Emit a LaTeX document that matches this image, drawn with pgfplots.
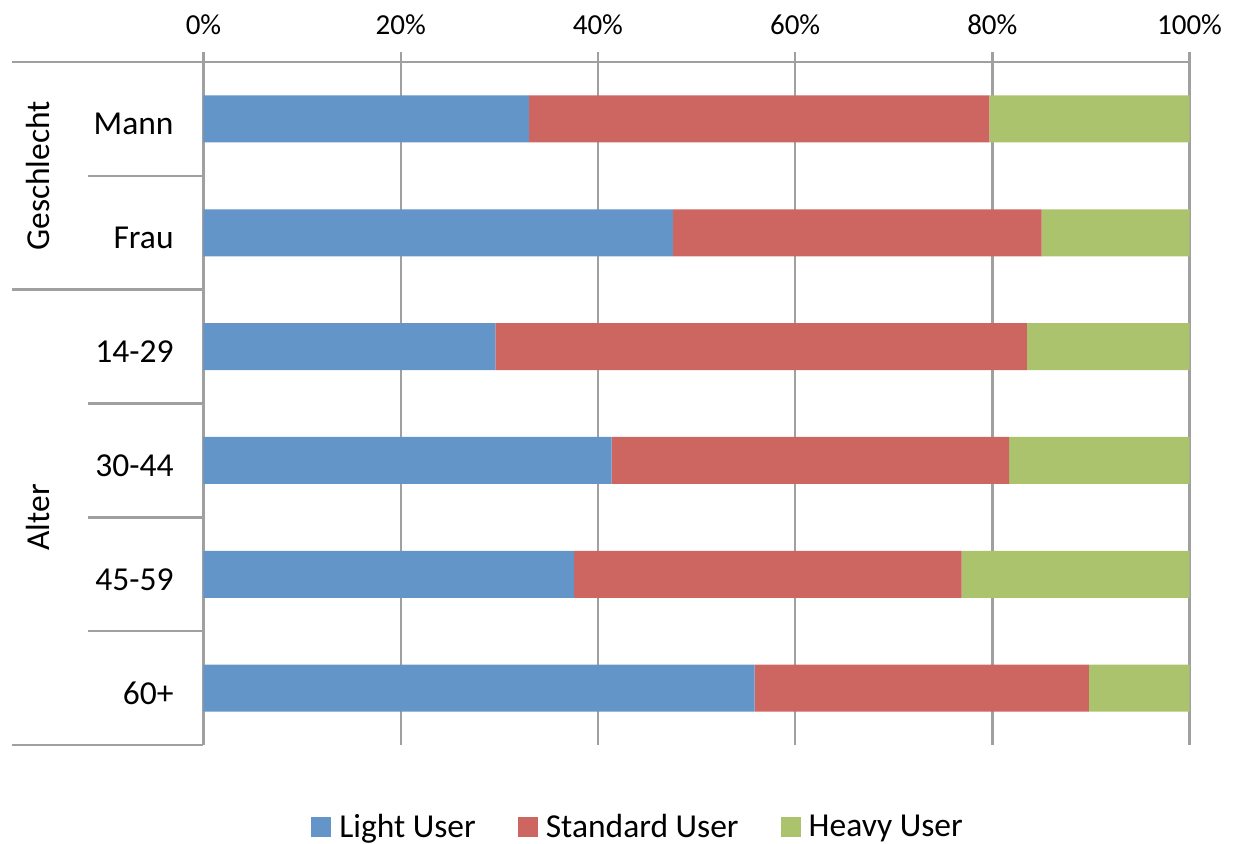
\documentclass[border=0pt]{standalone}
\usepackage{pgfplots}
\pgfplotsset{compat=1.18}
\usepackage{fontspec}
\setmainfont{Carlito}
\definecolor{lightuser}{RGB}{99,149,201}
\definecolor{standarduser}{RGB}{205,102,97}
\definecolor{heavyuser}{RGB}{171,195,109}
\definecolor{gridgray}{RGB}{160,160,160}
\begin{document}
\begin{tikzpicture}
\begin{axis}[
    xbar stacked,
    scale only axis,
    width=493pt,
    height=341.5pt,
    bar width=23.5pt,
    xmin=0, xmax=100,
    ymin=-0.5, ymax=5.5,
    y dir=reverse,
    axis x line*=top,
    axis y line*=left,
    axis line style={gridgray, line width=1.2pt},
    xtick={0,20,...,100},
    xticklabel={\pgfmathprintnumber{\tick}\%},
    xmajorgrids,
    major grid style={gridgray, line width=1.2pt},
    x tick style={gridgray, line width=1.2pt},
    major tick length=5pt,
    tick align=outside,
    xticklabel style={font=\fontsize{14.5}{16}\selectfont, anchor=base, yshift=9pt},
    ytick={0,...,5},
    yticklabels={Mann,Frau,14-29,30-44,45-59,60+},
    y tick style={draw=none},
    yticklabel style={font=\fontsize{16.75}{20}\selectfont, anchor=east, inner sep=0pt, xshift=-9.75pt, yshift=-2.5pt},
    /pgf/number format/assume math mode=true,
    clip=false,
    legend columns=3,
    legend image code/.code={\fill[#1] (0pt,-5pt) rectangle (10pt,5pt);},
    legend style={draw=none, fill=none, at={(0.4417,-0.1205)}, anchor=center,
        font=\fontsize{16.75}{20}\selectfont,
        /tikz/every odd column/.append style={column sep=2pt},
        /tikz/every even column/.append style={column sep=19pt}},
]
\addplot[fill=lightuser, draw=none] coordinates {(33.0,0) (47.6,1) (29.6,2) (41.4,3) (37.6,4) (55.9,5)};
\addlegendentry{Light User}
\addplot[fill=standarduser, draw=none] coordinates {(46.7,0) (37.4,1) (53.9,2) (40.3,3) (39.3,4) (33.9,5)};
\addlegendentry{Standard User}
\addplot[fill=heavyuser, draw=none] coordinates {(20.3,0) (15.0,1) (16.5,2) (18.3,3) (23.1,4) (10.2,5)};
\addlegendentry{Heavy User}
% category bracket lines on the left
\draw[gridgray, line width=1.2pt] ([xshift=-95.75pt]axis cs:0,-0.5) -- (axis cs:0,-0.5);
\draw[gridgray, line width=1.2pt] ([xshift=-95.75pt]axis cs:0,1.5) -- (axis cs:0,1.5);
\draw[gridgray, line width=1.2pt] ([xshift=-95.75pt]axis cs:0,5.5) -- (axis cs:0,5.5);
\draw[gridgray, line width=1.2pt] ([xshift=-57.75pt]axis cs:0,0.5) -- (axis cs:0,0.5);
\draw[gridgray, line width=1.2pt] ([xshift=-57.75pt]axis cs:0,2.5) -- (axis cs:0,2.5);
\draw[gridgray, line width=1.2pt] ([xshift=-57.75pt]axis cs:0,3.5) -- (axis cs:0,3.5);
\draw[gridgray, line width=1.2pt] ([xshift=-57.75pt]axis cs:0,4.5) -- (axis cs:0,4.5);
\node[rotate=90, font=\fontsize{16.75}{20}\selectfont] at ([xshift=-82.75pt]axis cs:0,0.5) {Geschlecht};
\node[rotate=90, font=\fontsize{16.75}{20}\selectfont] at ([xshift=-82.75pt]axis cs:0,3.5) {Alter};
\coordinate (O) at (rel axis cs:0,0);
\end{axis}
\pgfresetboundingbox
\path ([xshift=-101.75pt, yshift=-49pt]O) rectangle ++(617pt,421.5pt);
\end{tikzpicture}
\end{document}
